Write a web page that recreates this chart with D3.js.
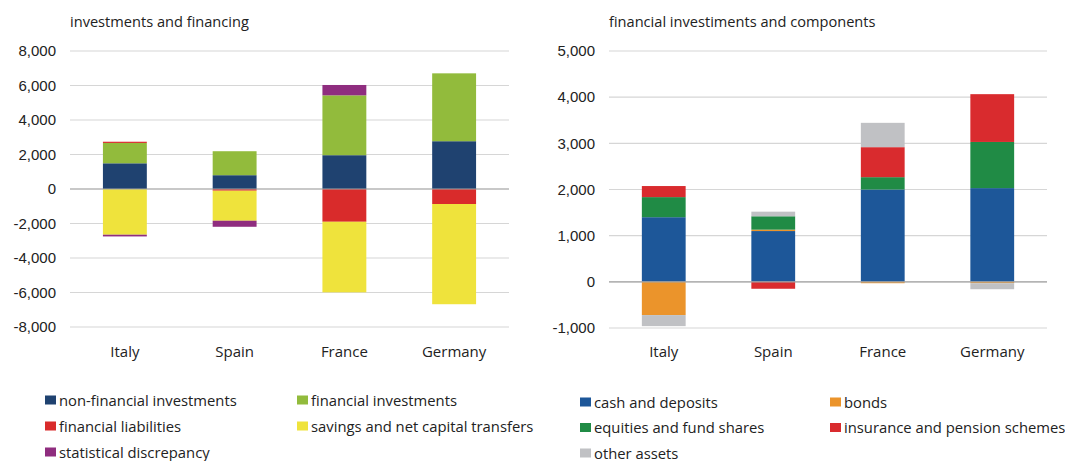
<!DOCTYPE html>
<html>
<head>
<meta charset="utf-8">
<script src="https://cdn.jsdelivr.net/npm/d3@7"></script>
<style>
  body { margin: 0; background: #fff; }
  .yax .tick text { font-family: "Liberation Sans", Arial, sans-serif; font-size: 15px; fill: #222; }
  .xax .tick text { font-family: "Open Sans", sans-serif; font-size: 15px; fill: #222; }
  .title { font-family: "Open Sans", sans-serif; font-size: 14.6px; fill: #222; }
  .leg { font-family: "Open Sans", sans-serif; font-size: 14.8px; fill: #222; }
</style>
</head>
<body>
<script>
// countries on both panels
var countries = ["Italy", "Spain", "France", "Germany"];

// left panel: investments and financing
var leftKeys = ["non-financial investments", "financial investments", "financial liabilities",
                "savings and net capital transfers", "statistical discrepancy"];
var leftColors = ["#1f4270", "#92bb3c", "#d92b2b", "#efe33c", "#8f2d7f"];
var nonFinInv   = [1490, 800, 1960, 2770];
var finInv      = [1180, 1390, 3470, 3935];
var finLiab     = [70, -100, -1900, -870];
var savings     = [-2650, -1740, -4090, -5810];
var discrepancy = [-100, -350, 600, 0];
var leftTicks = [-8000, -6000, -4000, -2000, 0, 2000, 4000, 6000, 8000];

// right panel: financial investments and components
var rightKeys = ["cash and deposits", "bonds", "equities and fund shares",
                 "insurance and pension schemes", "other assets"];
var rightColors = ["#1d5799", "#eb942b", "#208b45", "#d92b2e", "#c0c1c4"];
var cash      = [1400, 1100, 2000, 2030];
var bonds     = [-720, 30, -30, -30];
var equities  = [435, 290, 267, 1000];
var insurance = [240, -150, 650, 1035];
var other     = [-240, 100, 527, -130];
var rightTicks = [-1000, 0, 1000, 2000, 3000, 4000, 5000];

var svg = d3.select("body").append("svg")
  .attr("width", 1065)
  .attr("height", 461);

function table(keys, series) {
  return countries.map(function(c, i) {
    var row = { country: c };
    keys.forEach(function(k, j) { row[k] = series[j][i]; });
    return row;
  });
}

function panel(opt) {
  var g = svg.append("g");
  var x = d3.scaleBand().domain(countries).range([opt.x0, opt.x1]).paddingInner(0.6).paddingOuter(0.3);
  var y = d3.scaleLinear().domain(opt.domain).range([opt.yBottom, 51]);

  // grid lines
  g.selectAll(".grid")
    .data(opt.ticks)
    .enter()
    .append("line")
    .attr("x1", opt.x0).attr("x2", opt.x1)
    .attr("y1", function(d) { return y(d); })
    .attr("y2", function(d) { return y(d); })
    .attr("stroke", "#d6d6d6")
    .attr("stroke-width", 1.2);

  var stack = d3.stack().keys(opt.keys).offset(d3.stackOffsetDiverging);
  var layers = stack(table(opt.keys, opt.series));

  g.selectAll(".layer")
    .data(layers)
    .enter()
    .append("g")
    .attr("fill", function(d, i) { return opt.colors[i]; })
    .selectAll("rect")
    .data(function(d) { return d; })
    .enter()
    .append("rect")
    .attr("x", function(d) { return x(d.data.country); })
    .attr("width", x.bandwidth())
    .attr("y", function(d) { return y(Math.max(d[0], d[1])); })
    .attr("height", function(d) { return Math.abs(y(d[0]) - y(d[1])); });

  // zero line
  g.append("line")
    .attr("x1", opt.x0).attr("x2", opt.x1)
    .attr("y1", y(0)).attr("y2", y(0))
    .attr("stroke", "#a6a6a6")
    .attr("stroke-width", 1.2);

  // y axis
  var yAxis = d3.axisLeft(y).tickValues(opt.ticks).tickSize(0).tickPadding(0)
    .tickFormat(function(d) { return d3.format(",")(d).replace("−", "-"); });
  g.append("g")
    .attr("class", "yax")
    .attr("transform", "translate(" + (opt.x0 - 14) + ",0)")
    .call(yAxis)
    .call(function(a) { a.select(".domain").remove(); });

  // x axis labels
  var xAxis = d3.axisBottom(x).tickSize(0).tickPadding(0);
  g.append("g")
    .attr("class", "xax")
    .attr("transform", "translate(0," + 346 + ")")
    .call(xAxis)
    .call(function(a) { a.select(".domain").remove(); });

  // title
  g.append("text")
    .attr("class", "title")
    .attr("x", opt.x0)
    .attr("y", 27)
    .text(opt.title);

  // legend
  var leg = g.selectAll(".legend")
    .data(opt.keys)
    .enter()
    .append("g")
    .attr("transform", function(d, i) {
      return "translate(" + (opt.legX + (i % 2) * opt.legCol) + "," + (opt.legY + Math.floor(i / 2) * opt.legGap) + ")";
    });
  leg.append("rect")
    .attr("x", 0).attr("y", -4.5)
    .attr("width", 11).attr("height", 9)
    .attr("fill", function(d, i) { return opt.colors[i]; });
  leg.append("text")
    .attr("class", "leg")
    .attr("x", 14)
    .attr("y", 5.5)
    .text(function(d) { return d; });
}

panel({
  title: "investments and financing",
  keys: leftKeys, colors: leftColors,
  series: [nonFinInv, finInv, finLiab, savings, discrepancy],
  ticks: leftTicks, domain: [-8000, 8000], yBottom: 327,
  x0: 70, x1: 509,
  legX: 45, legY: 400, legCol: 252, legGap: 26
});

panel({
  title: "financial investiments and components",
  keys: rightKeys, colors: rightColors,
  series: [cash, bonds, equities, insurance, other],
  ticks: rightTicks, domain: [-1000, 5000], yBottom: 328,
  x0: 609, x1: 1047,
  legX: 580, legY: 402, legCol: 250, legGap: 25.5
});
</script>
</body>
</html>
